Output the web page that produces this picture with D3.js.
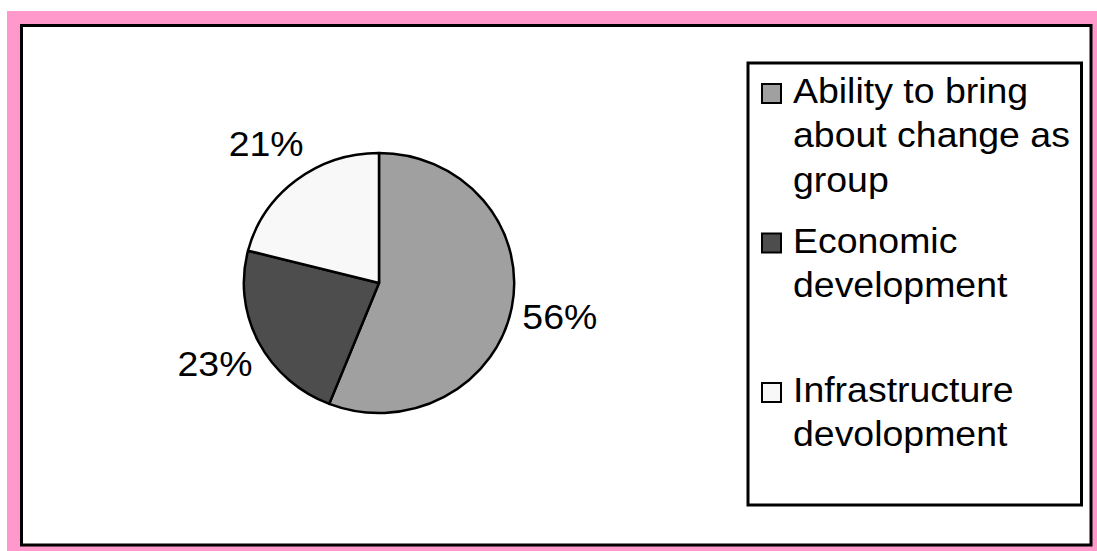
<!DOCTYPE html>
<html>
<head>
<meta charset="utf-8">
<script src="https://cdn.jsdelivr.net/npm/d3@7/dist/d3.min.js"></script>
<style>
  html, body { margin: 0; padding: 0; background: #ffffff; }
  svg { display: block; }
</style>
</head>
<body>
<svg id="chart" width="1097" height="551"></svg>
<script>
// ---- data ----
const categories = ["Ability to bring about change as group", "Economic development", "Infrastructure devolopment"];
const legendLines = [["Ability to bring", "about change as", "group"], ["Economic", "development"], ["Infrastructure", "devolopment"]];
const values = [56, 23, 21];
const labels = ["56%", "23%", "21%"];
const colors = ["#a0a0a0", "#4d4d4d", "#f8f8f8"];

// ---- layout ----
const W = 1097, H = 551;
const svg = d3.select("#chart");
const FONT = "'Liberation Sans', Arial, Helvetica, sans-serif";
const FS = 35;
const XSTRETCH = 1.07;

// pink frame
svg.append("rect").attr("x", 7).attr("y", 11).attr("width", W - 7).attr("height", H - 11)
  .attr("fill", "#ff99cc");
// inner white chart area
svg.append("rect").attr("x", 21.5).attr("y", 25.5).attr("width", 1091 - 21.5).attr("height", 545 - 25.5)
  .attr("fill", "#ffffff").attr("stroke", "#000").attr("stroke-width", 3);

// pie
const cx = 379, cy = 283, r = 130, sx = 1.04;
const pie = d3.pie().sort(null).value(d => d);
const arcs = pie(values);
const arc = d3.arc().innerRadius(0).outerRadius(r);
const labelArc = d3.arc().innerRadius(177).outerRadius(177);

const g = svg.append("g").attr("transform", `translate(${cx},${cy}) scale(${sx},1)`);
g.selectAll("path").data(arcs).join("path")
  .attr("d", arc)
  .attr("fill", (d, i) => colors[i])
  .attr("stroke", "#000")
  .attr("stroke-width", 2.5)
  .attr("stroke-linejoin", "round")
  .attr("vector-effect", "non-scaling-stroke");

// data labels
svg.append("g").selectAll("text").data(arcs).join("text")
  .attr("transform", d => {
    const c = labelArc.centroid(d);
    return `translate(${cx + c[0] * sx},${cy + c[1]}) scale(${XSTRETCH},1)`;
  })
  .attr("text-anchor", "middle")
  .attr("dy", "0.36em")
  .attr("font-family", FONT)
  .attr("font-size", FS)
  .attr("fill", "#000")
  .text((d, i) => labels[i]);

// legend
const lg = svg.append("g");
lg.append("rect").attr("x", 748).attr("y", 63).attr("width", 1081.5 - 748).attr("height", 505 - 63)
  .attr("fill", "#fff").attr("stroke", "#000").attr("stroke-width", 3);

const ly = d3.scalePoint().domain(categories).range([103, 402]);
const lineH = 44.5;
const items = lg.selectAll("g.item").data(categories).join("g").attr("class", "item");
items.append("rect")
  .attr("x", 762).attr("y", d => ly(d) - 19).attr("width", 19).attr("height", 19)
  .attr("fill", (d, i) => colors[i]).attr("stroke", "#000").attr("stroke-width", 2);
items.each(function (d, i) {
  const t = d3.select(this).append("text")
    .attr("transform", `translate(793,${ly(d)}) scale(${XSTRETCH},1)`)
    .attr("font-family", FONT).attr("font-size", FS).attr("fill", "#000");
  legendLines[i].forEach((line, j) => {
    t.append("tspan").attr("x", 0).attr("y", j * lineH).text(line);
  });
});
</script>
</body>
</html>
